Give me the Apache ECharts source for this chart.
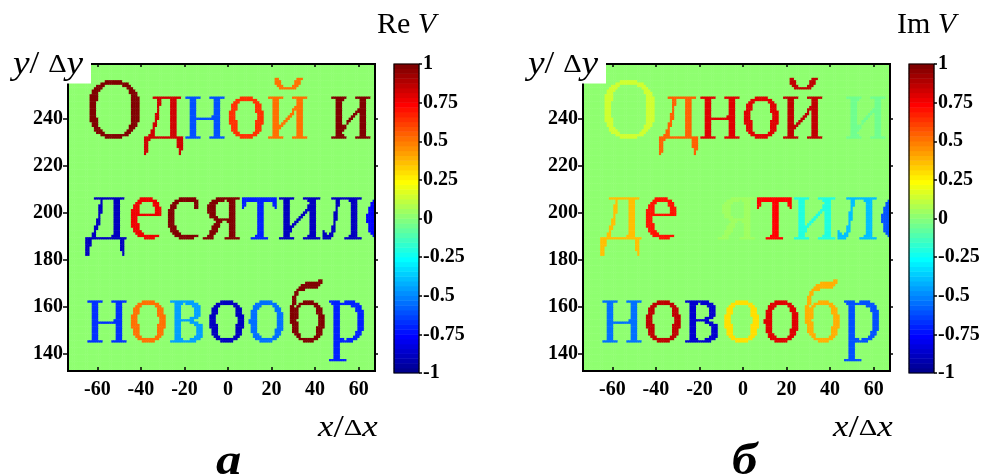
<!DOCTYPE html>
<html><head><meta charset="utf-8">
<script src="https://cdn.jsdelivr.net/npm/echarts@6/dist/echarts.min.js"></script>
<style>html,body{margin:0;padding:0;background:#fff}#c{width:997px;height:475px}</style>
</head><body><div id="c"></div>
<script>
// ---------- data ----------
const xMinCell = -73, xMaxCell = 67;      // cell centres along x/Δx
const yMinCell = 133, yMaxCell = 263;     // cell centres along y/Δy
const xTickLabels = [-60, -40, -20, 0, 20, 40, 60];
const yTickLabels = [140, 160, 180, 200, 220, 240];
const colorbarTicks = [-1, -0.75, -0.5, -0.25, 0, 0.25, 0.5, 0.75, 1];
const textLines = ['Одной и', 'десятиле', 'новообр'];
// value of every letter (space = 0)
const reValues = [
  [1.0, 0.82, -0.62, 0.63, 0.5, 0, 0.98],
  [-0.9, 0.75, 1.0, 0.98, -0.69, -0.9, -0.88, -0.77],
  [-0.66, 0.53, -0.45, -0.9, -0.55, 0.97, -0.69]
];
const imValues = [
  [0.15, 0.56, 0.81, 0.81, 0.87, 0, -0.06],
  [0.35, 0.69, 0.01, 0.06, 0.72, -0.19, -0.4, -0.6],
  [-0.56, 0.87, -0.87, 0.31, 0.81, 0.38, -0.6]
];
// raster layout of the text inside the cell grid (cells)
const FONT_CELLS = 37, TEXT_X0 = 8, BASELINES = [31.5, 75, 119], LINE_SCALE = [1, 1.03, 1];

const xCats = [], yCats = [];
for (let v = xMinCell; v <= xMaxCell; v++) xCats.push(String(v));
for (let v = yMinCell; v <= yMaxCell; v++) yCats.push(String(v));

// MATLAB jet(64)
function jet64() {
  const m = 64, n = 16, u = [];
  for (let i = 1; i <= n; i++) u.push(i / n);
  for (let i = 0; i < n - 1; i++) u.push(1);
  for (let i = n; i >= 1; i--) u.push(i / n);
  const J = [];
  for (let k = 1; k <= m; k++) {
    const g = (k - 8 >= 1 && k - 8 <= u.length) ? u[k - 9] : 0;
    const r = (k - 24 >= 1) ? u[k - 25] : 0;
    const b = (k + 8 <= u.length) ? u[k + 7] : 0;
    J.push('rgb(' + Math.round(r * 255) + ',' + Math.round(g * 255) + ',' + Math.round(b * 255) + ')');
  }
  return J;
}
const JET = jet64();
const pieces = JET.map((c, k) => k === 63 ? { gte: -1 + k / 32, lte: 1, color: c } : { gte: -1 + k / 32, lt: -1 + (k + 1) / 32, color: c });

function rasterize(values) {
  const W = xCats.length, H = yCats.length;
  const cells = new Float32Array(W * H);
  const cv = document.createElement('canvas'); cv.width = W; cv.height = H;
  const ctx = cv.getContext('2d', { willReadFrequently: true });
  ctx.font = FONT_CELLS + 'px "Liberation Serif"';
  ctx.textBaseline = 'alphabetic';
  textLines.forEach((line, li) => {
    const chars = Array.from(line);
    const s = LINE_SCALE[li];
    chars.forEach((ch, ci) => {
      if (ch === ' ') return;
      const off = ctx.measureText(chars.slice(0, ci).join('')).width;
      ctx.setTransform(1, 0, 0, 1, 0, 0);
      ctx.clearRect(0, 0, W, H);
      ctx.fillStyle = '#000';
      ctx.setTransform(s, 0, 0, 1, TEXT_X0 + off * s, BASELINES[li]);
      ctx.fillText(ch, 0, 0);
      const img = ctx.getImageData(0, 0, W, H).data;
      for (let r = 0; r < H; r++) for (let c = 0; c < W; c++)
        if (img[(r * W + c) * 4 + 3] >= 128) cells[r * W + c] = values[li][ci];
    });
  });
  const data = [];
  for (let r = 0; r < H; r++) for (let c = 0; c < W; c++) data.push([c, H - 1 - r, cells[r * W + c]]);
  return data;
}
const cbCats = [], cbData = [];
for (let k = 0; k < 64; k++) { cbCats.push(String(k)); cbData.push([0, k, -1 + (k + 0.5) / 32]); }

// ---------- chart ----------
const FF = '"Liberation Serif", "Times New Roman", serif';
const isXTick = (i, v) => xTickLabels.indexOf(Number(v)) >= 0;
const isYTick = (i, v) => yTickLabels.indexOf(Number(v)) >= 0;
const tickStyle = { color: '#000', width: 1.5 };
const lblStyle = { color: '#000', fontFamily: FF, fontWeight: 'bold', fontSize: 20 };

const panels = [{ left: 68, cbLeft: 394 }, { left: 583, cbLeft: 909 }];
const grids = [], xAxes = [], yAxes = [], series = [];
panels.forEach((p, pi) => {
  grids.push({ left: p.left, top: 64, width: 307, height: 307, show: true, borderColor: '#000', borderWidth: 2, backgroundColor: 'rgba(0,0,0,0)', z: 10 });
  grids.push({ left: p.cbLeft, top: 64, width: 25, height: 309, show: true, borderColor: '#000', borderWidth: 1.2, backgroundColor: 'rgba(0,0,0,0)', z: 10 });
  const gm = pi * 2, gc = pi * 2 + 1;
  const xb = xAxes.length;
  xAxes.push({ gridIndex: gm, type: 'category', data: xCats, position: 'bottom', z: 11,
    axisLine: { show: false }, splitLine: { show: false },
    axisTick: { show: true, inside: true, length: 4, alignWithLabel: true, interval: isXTick, lineStyle: tickStyle },
    axisLabel: Object.assign({ interval: isXTick, margin: 9 }, lblStyle) });
  xAxes.push({ gridIndex: gm, type: 'category', data: xCats, position: 'top', z: 11,
    axisLine: { show: false }, splitLine: { show: false },
    axisTick: { show: true, inside: true, length: 3, alignWithLabel: true, interval: isXTick, lineStyle: tickStyle },
    axisLabel: { show: false } });
  xAxes.push({ gridIndex: gc, type: 'category', data: ['0'], show: false });
  const yb = yAxes.length;
  yAxes.push({ gridIndex: gm, type: 'category', data: yCats, position: 'left', z: 11,
    axisLine: { show: false }, splitLine: { show: false },
    axisTick: { show: true, inside: false, length: 5, alignWithLabel: true, interval: isYTick, lineStyle: tickStyle },
    axisLabel: Object.assign({ interval: isYTick, margin: 5 }, lblStyle) });
  yAxes.push({ gridIndex: gm, type: 'category', data: yCats, position: 'right', z: 11,
    axisLine: { show: false }, splitLine: { show: false },
    axisTick: { show: true, inside: false, length: 3, alignWithLabel: true, interval: isYTick, lineStyle: tickStyle },
    axisLabel: { show: false } });
  yAxes.push({ gridIndex: gc, type: 'category', data: cbCats, show: false });
  yAxes.push({ gridIndex: gc, type: 'value', min: -1, max: 1, interval: 0.25, position: 'right', z: 11,
    axisLine: { show: false }, splitLine: { show: false },
    axisTick: { show: true, inside: false, length: 3, lineStyle: tickStyle },
    axisLabel: Object.assign({ margin: 4 }, lblStyle, { fontSize: 20 }) });
  series.push({ type: 'heatmap', xAxisIndex: xb, yAxisIndex: yb, data: rasterize(pi === 0 ? reValues : imValues),
    progressive: 0, animation: false, emphasis: { disabled: true }, silent: true });
  series.push({ type: 'heatmap', xAxisIndex: xb + 2, yAxisIndex: yb + 2, data: cbData,
    progressive: 0, animation: false, emphasis: { disabled: true }, silent: true });
});

function rtext(x, y, text, rich, extra) {
  return Object.assign({ type: 'text', z: 101, x: x, y: y,
    style: { text: text, rich: rich, fill: '#000', verticalAlign: 'bottom' } }, extra || {});
}
const richY = {
  i: { fontFamily: FF, fontStyle: 'italic', fontSize: 34, fill: '#000' },
  n: { fontFamily: FF, fontSize: 32, fill: '#000' },
  d: { fontFamily: FF, fontSize: 26, fill: '#000' }
};
const richX = {
  i: { fontFamily: FF, fontStyle: 'italic', fontSize: 29, fill: '#000' },
  n: { fontFamily: FF, fontSize: 31, fill: '#000' },
  d: { fontFamily: FF, fontSize: 24, fill: '#000' }
};
const richCb = {
  n: { fontFamily: FF, fontSize: 30, fill: '#000' },
  i: { fontFamily: FF, fontStyle: 'italic', fontSize: 30, fill: '#000' }
};
const graphics = [];
[[0, 68], [515, 583]].forEach(([x0, gl]) => {
  graphics.push({ type: 'rect', z: 100, shape: { x: x0, y: 40, width: gl + 23 - x0, height: 43.5 }, style: { fill: '#fff' } });
});
graphics.push(rtext(13, 82, '{i|y}{n|/ }{d|Δ}{i|y}', richY, { scaleX: 1.1 }));
graphics.push(rtext(528, 82, '{i|y}{n|/ }{d|Δ}{i|y}', richY, { scaleX: 1.1 }));
graphics.push(rtext(318, 444, '{i|x}{n|/}{d|Δ}{i|x}', richX, { scaleX: 1.2 }));
graphics.push(rtext(833, 444, '{i|x}{n|/}{d|Δ}{i|x}', richX, { scaleX: 1.2 }));
graphics.push(rtext(377, 40, '{n|Re }{i|V}', richCb));
graphics.push(rtext(897, 40, '{n|Im }{i|V}', richCb));
const richPanel = { b: { fontFamily: FF, fontStyle: 'italic', fontWeight: 'bold', fontSize: 44, fill: '#000' } };
graphics.push(rtext(216, 485, '{b|а}', richPanel, { scaleX: 1.15 }));
graphics.push(rtext(732, 485, '{b|б}', richPanel, { scaleX: 1.15 }));

const chart = echarts.init(document.getElementById('c'), null, { renderer: 'canvas' });
chart.setOption({
  animation: false,
  backgroundColor: '#fff',
  grid: grids, xAxis: xAxes, yAxis: yAxes, series: series,
  visualMap: { type: 'piecewise', show: false, dimension: 2, seriesIndex: [0, 1, 2, 3], pieces: pieces },
  graphic: graphics
});
</script></body></html>
